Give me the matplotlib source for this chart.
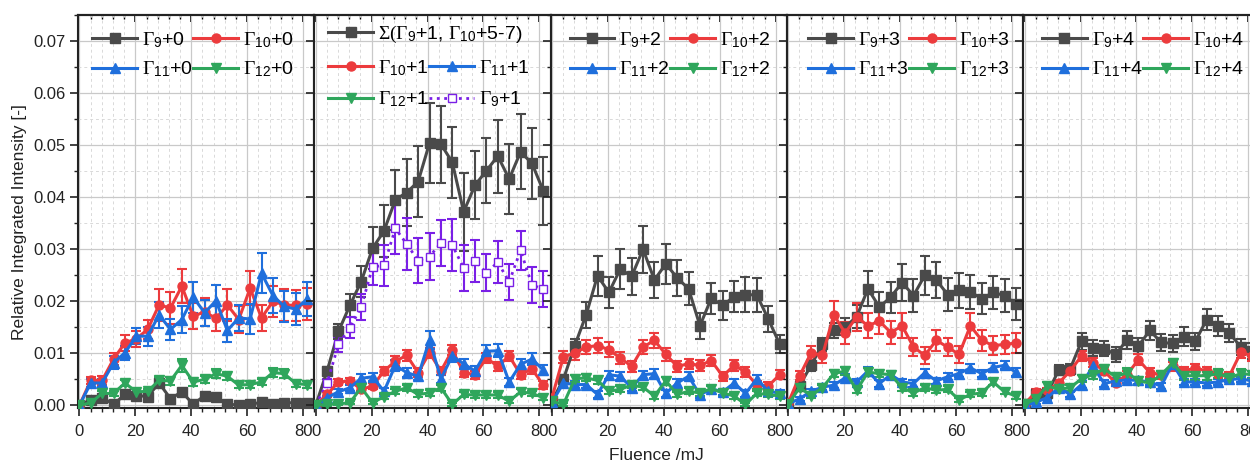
import numpy as np
import matplotlib
matplotlib.use('Agg')
import matplotlib.pyplot as plt
from matplotlib.ticker import MultipleLocator

plt.rcParams['font.family'] = ['Liberation Sans', 'DejaVu Sans']
plt.rcParams['mathtext.fontset'] = 'custom'
plt.rcParams['mathtext.rm'] = 'Liberation Serif'
plt.rcParams['mathtext.sf'] = 'Liberation Sans'
plt.rcParams['mathtext.it'] = 'Liberation Serif:italic'
plt.rcParams['mathtext.bf'] = 'Liberation Serif:bold'

# fluence (mJ), same for all panels
fluence = [0, 4.07, 8.14, 12.21, 16.28, 20.35, 24.42, 28.49, 32.56, 36.63, 40.7,
           44.77, 48.84, 52.91, 56.98, 61.05, 65.12, 69.19, 73.26, 77.33, 81.4]

# ---- panel 1 : +0
g9_0 = [0, 0.0011, 0.0015, 0.0002, 0.0021, 0.0019, 0.0017, 0.0043, 0.0013, 0.0026, 0.0002,
        0.0019, 0.0016, 0.0002, 0.0001, 0.0002, 0.0006, 0.0003, 0.0005, 0.0005, 0.0005]
g9_0_err = [0, 0.0004, 0.0004, 0.0004, 0.0005, 0.0005, 0.0005, 0.0006, 0.0005, 0.0006, 0.0004,
            0.0005, 0.0005, 0.0003, 0.0003, 0.0003, 0.0004, 0.0003, 0.0004, 0.0004, 0.0004]
g10_0 = [0, 0.0048, 0.0048, 0.0089, 0.012, 0.0128, 0.0146, 0.0193, 0.0187, 0.0229, 0.0171,
         0.018, 0.0167, 0.0193, 0.0165, 0.0225, 0.0168, 0.02, 0.0193, 0.0192, 0.0195]
g10_0_err = [0, 0.0007, 0.0008, 0.0012, 0.0015, 0.0015, 0.0018, 0.003, 0.003, 0.0033, 0.0025,
             0.0027, 0.0025, 0.003, 0.0025, 0.0033, 0.0025, 0.003, 0.003, 0.003, 0.003]
g11_0 = [0, 0.0043, 0.0043, 0.0082, 0.0101, 0.0133, 0.0133, 0.0174, 0.0146, 0.0165, 0.0208,
         0.0178, 0.0201, 0.0144, 0.0168, 0.0166, 0.0254, 0.0211, 0.019, 0.0185, 0.0204]
g11_0_err = [0, 0.0007, 0.0008, 0.0012, 0.0014, 0.0016, 0.0018, 0.0025, 0.002, 0.0025, 0.003,
             0.0025, 0.003, 0.0022, 0.0025, 0.0028, 0.0039, 0.0033, 0.003, 0.003, 0.0033]
g12_0 = [0, 0.0005, 0.0023, 0.0023, 0.0043, 0.0026, 0.0027, 0.0048, 0.0047, 0.0077, 0.0045,
         0.005, 0.0061, 0.0056, 0.0039, 0.004, 0.0045, 0.0063, 0.0061, 0.0042, 0.004]
g12_0_err = [0, 0.0003, 0.0005, 0.0005, 0.0006, 0.0005, 0.0005, 0.0007, 0.0007, 0.0012, 0.0007,
             0.0007, 0.0008, 0.0007, 0.0006, 0.0006, 0.0006, 0.0008, 0.0008, 0.0006, 0.0006]

# ---- panel 2 : +1
sum_1 = [0, 0.0066, 0.0142, 0.0192, 0.0238, 0.0302, 0.0335, 0.0395, 0.0409, 0.043, 0.0504,
         0.0502, 0.0467, 0.0372, 0.0423, 0.0451, 0.0479, 0.0435, 0.0487, 0.0465, 0.0412]
sum_1_err = [0, 0.0008, 0.0015, 0.0022, 0.003, 0.004, 0.005, 0.0058, 0.0064, 0.0068, 0.0076,
             0.0074, 0.0068, 0.0075, 0.0065, 0.0062, 0.007, 0.0068, 0.0072, 0.0068, 0.0066]
g9_1 = [0, 0.0043, 0.0117, 0.0149, 0.0189, 0.0266, 0.0269, 0.034, 0.031, 0.0278, 0.0286,
        0.0312, 0.0308, 0.0264, 0.0277, 0.0255, 0.0275, 0.0237, 0.0298, 0.0231, 0.0224]
g9_1_err = [0, 0.0008, 0.0015, 0.002, 0.0025, 0.0035, 0.004, 0.005, 0.005, 0.0043, 0.0045,
            0.0045, 0.005, 0.0045, 0.004, 0.0035, 0.004, 0.0035, 0.0037, 0.0035, 0.0035]
g10_1 = [0, 0.0021, 0.0045, 0.0047, 0.0031, 0.0037, 0.0066, 0.0085, 0.0096, 0.0063, 0.0101,
         0.0066, 0.0106, 0.0063, 0.0059, 0.0091, 0.0075, 0.0095, 0.0059, 0.007, 0.0039]
g10_1_err = [0, 0.0004, 0.0006, 0.0006, 0.0006, 0.0006, 0.0008, 0.0009, 0.001, 0.0008, 0.001,
             0.0008, 0.001, 0.0008, 0.0008, 0.001, 0.0009, 0.001, 0.0008, 0.0009, 0.0007]
g11_1 = [0, 0.0015, 0.0026, 0.0034, 0.0052, 0.0055, 0.0027, 0.0077, 0.0063, 0.0056, 0.0126,
         0.0051, 0.0095, 0.008, 0.0066, 0.0104, 0.0105, 0.0045, 0.0079, 0.0089, 0.0068]
g11_1_err = [0, 0.0004, 0.0005, 0.0006, 0.0008, 0.0008, 0.0006, 0.001, 0.0009, 0.0008, 0.0017,
             0.0008, 0.0012, 0.001, 0.0009, 0.0012, 0.0012, 0.0008, 0.001, 0.0011, 0.0009]
g12_1 = [0, 0.0002, 0.0003, 0.0005, 0.0034, 0.0005, 0.0017, 0.0027, 0.0034, 0.0021, 0.0024,
         0.0034, 0.0002, 0.0021, 0.002, 0.002, 0.002, 0.0008, 0.0026, 0.0023, 0.0015]
g12_1_err = [0, 0.0003, 0.0003, 0.0003, 0.0006, 0.0003, 0.0005, 0.0005, 0.0006, 0.0005, 0.0005,
             0.0006, 0.0003, 0.0005, 0.0005, 0.0005, 0.0005, 0.0004, 0.0005, 0.0005, 0.0005]

# ---- panel 3 : +2
g9_2 = [0.0008, 0.005, 0.0115, 0.0174, 0.0249, 0.0217, 0.0262, 0.0248, 0.03, 0.0241, 0.0272,
        0.0245, 0.0224, 0.0153, 0.0206, 0.0192, 0.0209, 0.0213, 0.0212, 0.0166, 0.0118]
g9_2_err = [0.0004, 0.0008, 0.0012, 0.0025, 0.0038, 0.003, 0.0038, 0.0035, 0.0045, 0.0035, 0.0038,
            0.0035, 0.0032, 0.0025, 0.003, 0.0028, 0.003, 0.0033, 0.0033, 0.0025, 0.0018]
g10_2 = [0.0015, 0.0093, 0.0101, 0.0112, 0.0115, 0.0107, 0.0091, 0.0075, 0.0112, 0.0125, 0.0098,
         0.0075, 0.008, 0.0077, 0.0086, 0.0056, 0.0077, 0.0064, 0.0039, 0.0037, 0.0059]
g10_2_err = [0.0004, 0.0012, 0.0013, 0.0013, 0.0014, 0.0014, 0.0012, 0.001, 0.0013, 0.0015, 0.0012,
             0.001, 0.001, 0.001, 0.0011, 0.0009, 0.001, 0.0009, 0.0007, 0.0007, 0.0009]
g11_2 = [0.0006, 0.0043, 0.004, 0.004, 0.0021, 0.0059, 0.0056, 0.0034, 0.0059, 0.0061, 0.0023,
         0.0043, 0.0056, 0.002, 0.0032, 0.0026, 0.0043, 0.0023, 0.0051, 0.0027, 0.0024]
g11_2_err = [0.0003, 0.0007, 0.0007, 0.0007, 0.0006, 0.0008, 0.0008, 0.0006, 0.0008, 0.0008, 0.0006,
             0.0007, 0.0008, 0.0006, 0.0006, 0.0006, 0.0007, 0.0006, 0.0007, 0.0006, 0.0006]
g12_2 = [0.0008, 0.0002, 0.0051, 0.0053, 0.0048, 0.0027, 0.0031, 0.0039, 0.0035, 0.0018, 0.0047,
         0.0021, 0.0027, 0.0024, 0.0032, 0.0024, 0.0018, 0.0002, 0.0023, 0.0021, 0.0018]
g12_2_err = [0.0003, 0.0003, 0.0007, 0.0007, 0.0007, 0.0006, 0.0006, 0.0006, 0.0006, 0.0005, 0.0007,
             0.0005, 0.0006, 0.0005, 0.0006, 0.0005, 0.0005, 0.0003, 0.0005, 0.0005, 0.0005]

# ---- panel 4 : +3
g9_3 = [0.0005, 0.0038, 0.0077, 0.0117, 0.0144, 0.0151, 0.017, 0.0224, 0.0189, 0.0208, 0.0236,
        0.0211, 0.025, 0.0241, 0.0213, 0.0221, 0.0218, 0.0205, 0.0217, 0.0211, 0.0195]
g9_3_err = [0.0003, 0.0006, 0.001, 0.0013, 0.0015, 0.0016, 0.0022, 0.0034, 0.0028, 0.003, 0.0036,
            0.0032, 0.0037, 0.0035, 0.0032, 0.0033, 0.0033, 0.003, 0.0032, 0.0032, 0.003]
g10_3 = [0.0005, 0.0057, 0.0101, 0.0096, 0.0174, 0.0139, 0.017, 0.0153, 0.0162, 0.014, 0.0153,
         0.0112, 0.0096, 0.0125, 0.0112, 0.0098, 0.0153, 0.0125, 0.0115, 0.0117, 0.012]
g10_3_err = [0.0003, 0.0009, 0.0014, 0.0014, 0.0027, 0.0022, 0.0027, 0.0024, 0.0025, 0.0022, 0.0024,
             0.0018, 0.0016, 0.002, 0.0018, 0.0016, 0.0024, 0.002, 0.0018, 0.0018, 0.0019]
g11_3 = [0.0003, 0.0013, 0.0027, 0.0035, 0.0039, 0.0053, 0.0045, 0.0066, 0.0042, 0.0059, 0.0045,
         0.0042, 0.0063, 0.0047, 0.0055, 0.0061, 0.0072, 0.0061, 0.0073, 0.0077, 0.0064]
g11_3_err = [0.0003, 0.0004, 0.0005, 0.0006, 0.0006, 0.0007, 0.0006, 0.0008, 0.0006, 0.0007, 0.0006,
             0.0006, 0.0007, 0.0006, 0.0007, 0.0007, 0.0008, 0.0007, 0.0008, 0.0008, 0.0007]
g12_3 = [0.0003, 0.0034, 0.0019, 0.0034, 0.0061, 0.0066, 0.0029, 0.0064, 0.0061, 0.0059, 0.0034,
         0.0024, 0.0034, 0.0029, 0.0031, 0.0011, 0.0021, 0.0024, 0.0045, 0.0026, 0.0018]
g12_3_err = [0.0003, 0.0006, 0.0005, 0.0006, 0.0007, 0.0007, 0.0006, 0.0007, 0.0007, 0.0007, 0.0006,
             0.0005, 0.0006, 0.0005, 0.0006, 0.0004, 0.0005, 0.0005, 0.0006, 0.0005, 0.0005]

# ---- panel 5 : +4
g9_4 = [0.0002, 0.0021, 0.0023, 0.0068, 0.007, 0.0123, 0.011, 0.0109, 0.0098, 0.0126, 0.0114,
        0.0144, 0.0121, 0.0119, 0.0132, 0.0123, 0.0165, 0.0152, 0.0139, 0.0112, 0.0105]
g9_4_err = [0.0003, 0.0006, 0.0006, 0.001, 0.001, 0.0017, 0.0015, 0.0015, 0.0014, 0.0017, 0.0016,
            0.0019, 0.0016, 0.0016, 0.0018, 0.0017, 0.0021, 0.0019, 0.0018, 0.0016, 0.0015]
g10_4 = [0.0003, 0.0026, 0.0029, 0.0043, 0.0066, 0.0095, 0.0082, 0.0066, 0.0043, 0.0059, 0.0088,
         0.0063, 0.0059, 0.0075, 0.0066, 0.0072, 0.0066, 0.0061, 0.0057, 0.0102, 0.0095]
g10_4_err = [0.0003, 0.0005, 0.0005, 0.0006, 0.0008, 0.001, 0.0009, 0.0008, 0.0006, 0.0007, 0.001,
             0.0008, 0.0007, 0.0009, 0.0008, 0.0008, 0.0008, 0.0008, 0.0007, 0.001, 0.001]
g11_4 = [0, 0.0006, 0.0015, 0.0034, 0.0021, 0.004, 0.0075, 0.0042, 0.0047, 0.0049, 0.0048,
         0.0045, 0.0037, 0.008, 0.0045, 0.0045, 0.0043, 0.0045, 0.005, 0.0051, 0.0047]
g11_4_err = [0.0003, 0.0004, 0.0005, 0.0006, 0.0005, 0.0006, 0.0008, 0.0006, 0.0006, 0.0006, 0.0006,
             0.0006, 0.0006, 0.0008, 0.0006, 0.0006, 0.0006, 0.0006, 0.0006, 0.0006, 0.0006]
g12_4 = [0.0002, 0.0013, 0.0037, 0.0031, 0.0034, 0.0051, 0.0059, 0.007, 0.0055, 0.0063, 0.0047,
         0.0043, 0.0059, 0.0081, 0.0057, 0.0057, 0.0057, 0.0061, 0.0053, 0.0061, 0.0059]
g12_4_err = [0.0003, 0.0005, 0.0007, 0.0006, 0.0006, 0.0007, 0.0008, 0.0008, 0.0007, 0.0008, 0.0007,
             0.0007, 0.0008, 0.0009, 0.0008, 0.0008, 0.0008, 0.0008, 0.0007, 0.0008, 0.0008]

GRAY = '#4a4a4a'
RED = '#ec3b3d'
BLUE = '#1f6fdc'
GREEN = '#2fa65c'
PURPLE = '#7a1fe6'


def gam(n):
    return r'$\mathrm{\Gamma}_{\mathsf{%d}}$' % n


def draw(ax, y, err, color, marker, ls='-', mfc=None, lw=2.2, ms=6.5):
    ax.errorbar(fluence, y, yerr=err, fmt='none', ecolor=color, elinewidth=1.5,
                capsize=3.4, capthick=1.5, zorder=2)
    line, = ax.plot(fluence, y, color=color, marker=marker, ls=ls, lw=lw, ms=ms,
                    mfc=mfc if mfc else color, mec=color, zorder=3)
    return line


fig = plt.figure(figsize=(12.5, 4.65), dpi=100)
W, H = 1250, 465
left0, pw = 78, 236.3
top, bottom = 15, 408

leg_kw = dict(frameon=False, fontsize=14, borderpad=0, borderaxespad=0, handlelength=2.3,
              handletextpad=0.25, columnspacing=0.05, numpoints=1)

panels = [
    (g9_0, g9_0_err, g10_0, g10_0_err, g11_0, g11_0_err, g12_0, g12_0_err),
    (None, None, g10_1, g10_1_err, g11_1, g11_1_err, g12_1, g12_1_err),
    (g9_2, g9_2_err, g10_2, g10_2_err, g11_2, g11_2_err, g12_2, g12_2_err),
    (g9_3, g9_3_err, g10_3, g10_3_err, g11_3, g11_3_err, g12_3, g12_3_err),
    (g9_4, g9_4_err, g10_4, g10_4_err, g11_4, g11_4_err, g12_4, g12_4_err),
]
leg_x = [0.06, 0.06, 0.08, 0.09, 0.08]

for k, data in enumerate(panels):
    x0 = left0 + k * pw
    ax = fig.add_axes([x0 / W, 1 - bottom / H, pw / W, (bottom - top) / H])
    ax.set_xlim(-0.5, 84)
    ax.set_ylim(-0.0005, 0.075)
    ax.xaxis.set_major_locator(MultipleLocator(20))
    ax.xaxis.set_minor_locator(MultipleLocator(4))
    ax.yaxis.set_major_locator(MultipleLocator(0.01))
    ax.yaxis.set_minor_locator(MultipleLocator(0.005))
    ax.grid(which='major', color='#c9c9c9', lw=0.9, ls='-', zorder=0)
    ax.grid(which='minor', color='#d9d9d9', lw=0.7, ls=(0, (3, 3)), zorder=0)
    ax.set_axisbelow(True)
    for s in ax.spines.values():
        s.set_linewidth(1.5)
        s.set_color('#222222')
    ax.tick_params(which='major', length=5.5, width=1.2, direction='out', labelsize=12,
                   color='#222222', labelcolor='#222222')
    ax.tick_params(which='minor', length=3, width=1.0, direction='out', color='#222222')
    ax.tick_params(axis='x', pad=6)
    sec = ax.secondary_xaxis('top')
    sec.xaxis.set_major_locator(MultipleLocator(20))
    sec.xaxis.set_minor_locator(MultipleLocator(4))
    sec.tick_params(which='major', direction='in', length=5, width=1.2, labeltop=False)
    sec.tick_params(which='minor', direction='in', length=3, width=1.0)
    sec.spines['top'].set_linewidth(1.5)
    if k == 0:
        ax.yaxis.set_major_formatter(matplotlib.ticker.FormatStrFormatter('%.2f'))
    else:
        ax.tick_params(axis='y', labelleft=False)

    y9, e9, y10, e10, y11, e11, y12, e12 = data
    n = k
    if k == 1:
        h_sum = draw(ax, sum_1, sum_1_err, GRAY, 's')
        h_p = draw(ax, g9_1, g9_1_err, PURPLE, 's', ls=':', mfc='white', lw=2.0, ms=6)
    else:
        h9 = draw(ax, y9, e9, GRAY, 's')
    h10 = draw(ax, y10, e10, RED, 'o')
    h11 = draw(ax, y11, e11, BLUE, '^')
    h12 = draw(ax, y12, e12, GREEN, 'v')

    if k == 1:
        l1 = ax.legend([h_sum],
                       [r'$\mathrm{\Sigma(\Gamma}_{\mathsf{9}}$+1, $\mathrm{\Gamma}_{\mathsf{10}}$+5-7)'],
                       loc='upper left', bbox_to_anchor=(leg_x[k], 0.977), **leg_kw)
        ax.add_artist(l1)
        ax.legend([h10, h12, h11, h_p],
                  [gam(10) + '+1', gam(12) + '+1', gam(11) + '+1', gam(9) + '+1'],
                  ncol=2, loc='upper left', bbox_to_anchor=(leg_x[k], 0.89),
                  labelspacing=0.6, **leg_kw)
    else:
        ax.legend([h9, h11, h10, h12],
                  [gam(9) + '+%d' % n, gam(11) + '+%d' % n, gam(10) + '+%d' % n, gam(12) + '+%d' % n],
                  ncol=2, loc='upper left', bbox_to_anchor=(leg_x[k], 0.962),
                  labelspacing=0.5, **leg_kw)

fig.text(20 / W, 1 - 222 / H, 'Relative Integrated Intensity [-]', rotation=90,
         ha='center', va='center', fontsize=12.5, color='#222222')
fig.text(656 / W, 1 - 455 / H, 'Fluence /mJ', ha='center', va='center', fontsize=12.5,
         color='#222222')

fig.savefig('out.png', dpi=100)
